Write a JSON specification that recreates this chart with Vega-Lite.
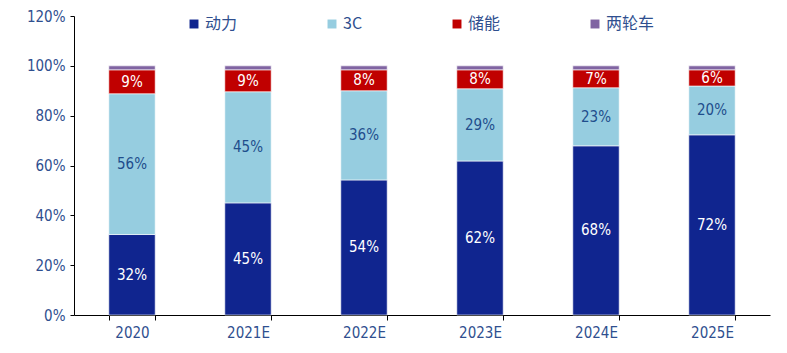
{
  "$schema": "https://vega.github.io/schema/vega-lite/v6.json",
  "width": 696,
  "height": 299,
  "autosize": "none",
  "padding": {"left": 74, "top": 16, "right": 17, "bottom": 38},
  "background": "white",
  "config": {"view": {"stroke": null}},
  "data": {
    "values": [
      {"year": "2020", "series": "动力", "order": 1, "value": 32.3, "label": "32%"},
      {"year": "2020", "series": "3C", "order": 2, "value": 56.5, "label": "56%"},
      {"year": "2020", "series": "储能", "order": 3, "value": 9.6, "label": "9%"},
      {"year": "2020", "series": "两轮车", "order": 4, "value": 1.6, "label": ""},
      {"year": "2021E", "series": "动力", "order": 1, "value": 45.0, "label": "45%"},
      {"year": "2021E", "series": "3C", "order": 2, "value": 44.6, "label": "45%"},
      {"year": "2021E", "series": "储能", "order": 3, "value": 8.8, "label": "9%"},
      {"year": "2021E", "series": "两轮车", "order": 4, "value": 1.6, "label": ""},
      {"year": "2022E", "series": "动力", "order": 1, "value": 54.2, "label": "54%"},
      {"year": "2022E", "series": "3C", "order": 2, "value": 35.8, "label": "36%"},
      {"year": "2022E", "series": "储能", "order": 3, "value": 8.4, "label": "8%"},
      {"year": "2022E", "series": "两轮车", "order": 4, "value": 1.6, "label": ""},
      {"year": "2023E", "series": "动力", "order": 1, "value": 61.8, "label": "62%"},
      {"year": "2023E", "series": "3C", "order": 2, "value": 29.0, "label": "29%"},
      {"year": "2023E", "series": "储能", "order": 3, "value": 7.6, "label": "8%"},
      {"year": "2023E", "series": "两轮车", "order": 4, "value": 1.6, "label": ""},
      {"year": "2024E", "series": "动力", "order": 1, "value": 67.9, "label": "68%"},
      {"year": "2024E", "series": "3C", "order": 2, "value": 23.3, "label": "23%"},
      {"year": "2024E", "series": "储能", "order": 3, "value": 7.2, "label": "7%"},
      {"year": "2024E", "series": "两轮车", "order": 4, "value": 1.6, "label": ""},
      {"year": "2025E", "series": "动力", "order": 1, "value": 72.3, "label": "72%"},
      {"year": "2025E", "series": "3C", "order": 2, "value": 19.6, "label": "20%"},
      {"year": "2025E", "series": "储能", "order": 3, "value": 6.5, "label": "6%"},
      {"year": "2025E", "series": "两轮车", "order": 4, "value": 1.6, "label": ""}
    ]
  },
  "transform": [
    {"stack": "value", "groupby": ["year"], "sort": [{"field": "order", "order": "ascending"}], "as": ["v0", "v1"]},
    {"calculate": "(datum.v0 + datum.v1) / 2", "as": "mid"}
  ],
  "encoding": {
    "x": {
      "field": "year", "type": "nominal", "sort": null,
      "scale": {"paddingInner": 0.6, "paddingOuter": 0.3},
      "axis": {
        "title": null, "labelAngle": 0, "domainColor": "#000000", "domainWidth": 1,
        "tickColor": "#000000", "tickBand": "extent", "tickSize": 5,
        "labelFont": "DejaVu Sans Condensed, Liberation Sans, sans-serif", "labelFontSize": 15, "labelColor": "#2F4F8F",
        "labelPadding": 5
      }
    }
  },
  "layer": [
    {
      "mark": {"type": "bar", "stroke": "white", "strokeWidth": 0.6},
      "encoding": {
        "y": {
          "field": "v0", "type": "quantitative",
          "scale": {"domain": [0, 120], "nice": false},
          "axis": {
            "title": null, "values": [0, 20, 40, 60, 80, 100, 120],
            "labelExpr": "datum.value + '%'", "grid": false,
            "domainColor": "#000000", "tickColor": "#000000", "tickSize": 4,
            "labelFont": "DejaVu Sans Condensed, Liberation Sans, sans-serif", "labelFontSize": 15, "labelColor": "#2F4F8F",
            "labelPadding": 5
          }
        },
        "y2": {"field": "v1"},
        "color": {
          "field": "series", "type": "nominal",
          "scale": {"domain": ["动力", "3C", "储能", "两轮车"], "range": ["#10258F", "#96CDE0", "#C00000", "#8064A2"]},
          "legend": {
            "title": null, "orient": "none", "direction": "horizontal", "columns": 4,
            "legendX": 112, "legendY": 0, "symbolType": "square", "symbolSize": 80,
            "symbolStrokeWidth": 0, "labelFont": "Noto Sans CJK SC", "labelFontSize": 16,
            "labelColor": "#2F4F8F", "columnPadding": 86, "labelOffset": 3
          }
        }
      }
    },
    {
      "mark": {"type": "text", "font": "DejaVu Sans Condensed, Liberation Sans, sans-serif", "fontSize": 15, "baseline": "middle", "align": "center"},
      "encoding": {
        "y": {"field": "mid", "type": "quantitative"},
        "text": {"field": "label"},
        "color": {
          "field": "series", "type": "nominal",
          "scale": {"domain": ["动力", "3C", "储能", "两轮车"], "range": ["#FFFFFF", "#1F4E8C", "#FFFFFF", "#FFFFFF"]},
          "legend": null
        }
      }
    }
  ],
  "resolve": {"scale": {"color": "independent"}}
}
